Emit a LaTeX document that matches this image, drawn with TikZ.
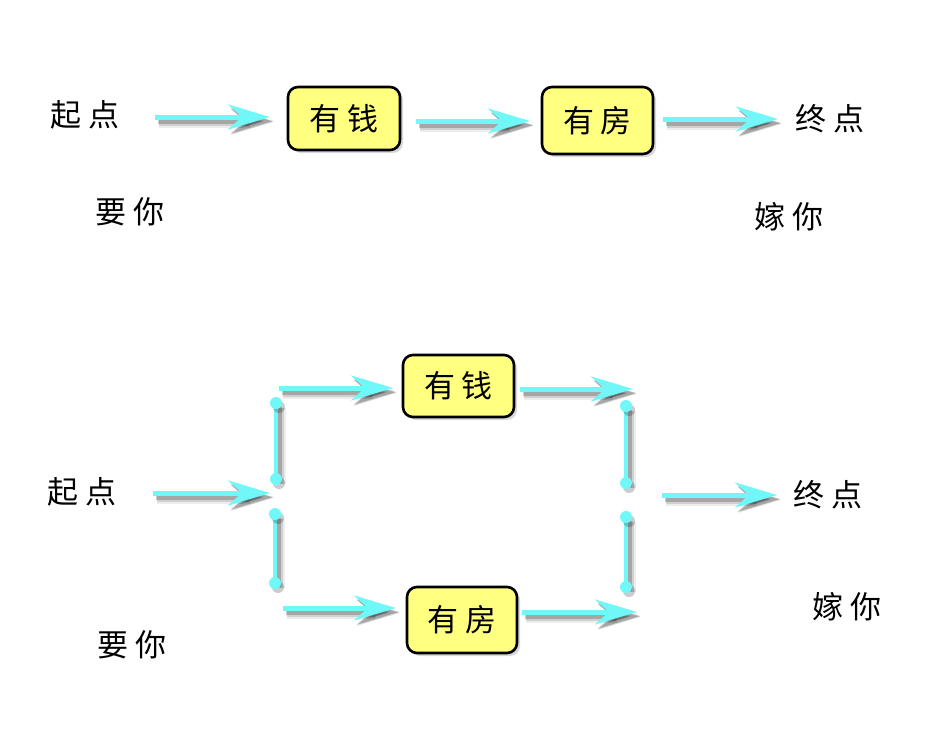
\documentclass[tikz,border=0pt]{standalone}
\usepackage{fontspec}
\newfontfamily\cjk{Noto Sans CJK SC}
\usetikzlibrary{arrows.meta}
\definecolor{arrcyan}{RGB}{112,248,248}
\definecolor{boxyellow}{RGB}{255,255,128}
\tikzset{
  shad/.style={preaction={draw=black,opacity=0.07,line width=12pt,transform canvas={shift={(4,5)}}},
               preaction={draw=black,opacity=0.12,line width=8pt,transform canvas={shift={(3.5,4.5)}}},
               preaction={draw=black,opacity=0.2,line width=5pt,transform canvas={shift={(3,4)}}}},
  arr/.style={shad,draw=arrcyan,line width=5pt,-{Stealth[length=42pt,width=25pt,inset=14pt]}},
  link/.style={shad,draw=arrcyan,line width=4pt},
  dotshad/.style={fill=black,opacity=0.2,transform canvas={shift={(3,4)}}},
  dot/.style={fill=arrcyan},
  lbl/.style={font=\cjk\fontsize{31}{31}\selectfont,inner sep=0pt},
  box/.style={lbl,draw=black,line width=2.6pt,fill=boxyellow,rounded corners=10pt,
              preaction={fill=black,opacity=0.15,transform canvas={shift={(3,3)}}}},
}
\newcommand{\tw}[2]{#1\hspace{7pt}#2}
\begin{document}
\begin{tikzpicture}[x=1pt,y=-1pt]
\useasboundingbox[fill=white] (0,0) rectangle (940,740);
% ---------- top row ----------
\node[lbl] (s1) at (85,115) {\tw{起}{点}};
\node[lbl] (q1) at (130,212) {\tw{要}{你}};
\node[box,minimum width=112pt,minimum height=63pt] (m1) at (344,118.5) {\tw{有}{钱}};
\node[box,minimum width=111pt,minimum height=67pt] (h1) at (597.5,120.5) {\tw{有}{房}};
\node[lbl] (e1) at (830,119) {\tw{终}{点}};
\node[lbl] (j1) at (789,217) {\tw{嫁}{你}};
\coordinate (a1s) at (155,117); \coordinate (a1e) at (270,117);
\coordinate (a2s) at (416,121); \coordinate (a2e) at (530,121);
\coordinate (a3s) at (663,119); \coordinate (a3e) at (778,119);
\draw[arr] (a1s) -- (a1e);
\draw[arr] (a2s) -- (a2e);
\draw[arr] (a3s) -- (a3e);
% ---------- bottom ----------
\node[lbl] (s2) at (82,492) {\tw{起}{点}};
\node[lbl] (q2) at (132,645) {\tw{要}{你}};
\node[box,minimum width=111pt,minimum height=62pt] (m2) at (458.5,386) {\tw{有}{钱}};
\node[box,minimum width=110pt,minimum height=66pt] (h2) at (462,620) {\tw{有}{房}};
\node[lbl] (e2) at (828,495) {\tw{终}{点}};
\node[lbl] (j2) at (847,607) {\tw{嫁}{你}};
\coordinate (b1s) at (153,493); \coordinate (b1e) at (270,493);
\coordinate (b2s) at (279,388); \coordinate (b2e) at (393,388);
\coordinate (b3s) at (520,389); \coordinate (b3e) at (633,389);
\coordinate (b4s) at (283,608); \coordinate (b4e) at (396,608);
\coordinate (b5s) at (522,612); \coordinate (b5e) at (637,612);
\coordinate (b6s) at (662,495); \coordinate (b6e) at (777,495);
\coordinate (l1a) at (276,403); \coordinate (l1b) at (276,479);
\coordinate (l2a) at (275,514); \coordinate (l2b) at (275,583);
\coordinate (r1a) at (626,406); \coordinate (r1b) at (626,483);
\coordinate (r2a) at (626,517); \coordinate (r2b) at (626,587);
\draw[link] (l1a) -- (l1b);
\draw[link] (l2a) -- (l2b);
\draw[link] (r1a) -- (r1b);
\draw[link] (r2a) -- (r2b);
\foreach \p in {l1a,l1b,l2a,l2b,r1a,r1b,r2a,r2b}{
  \fill[dotshad] (\p) circle (6pt);
  \fill[dot] (\p) circle (6pt);
}
\draw[arr] (b1s) -- (b1e);
\draw[arr] (b2s) -- (b2e);
\draw[arr] (b3s) -- (b3e);
\draw[arr] (b4s) -- (b4e);
\draw[arr] (b5s) -- (b5e);
\draw[arr] (b6s) -- (b6e);
\end{tikzpicture}
\end{document}
